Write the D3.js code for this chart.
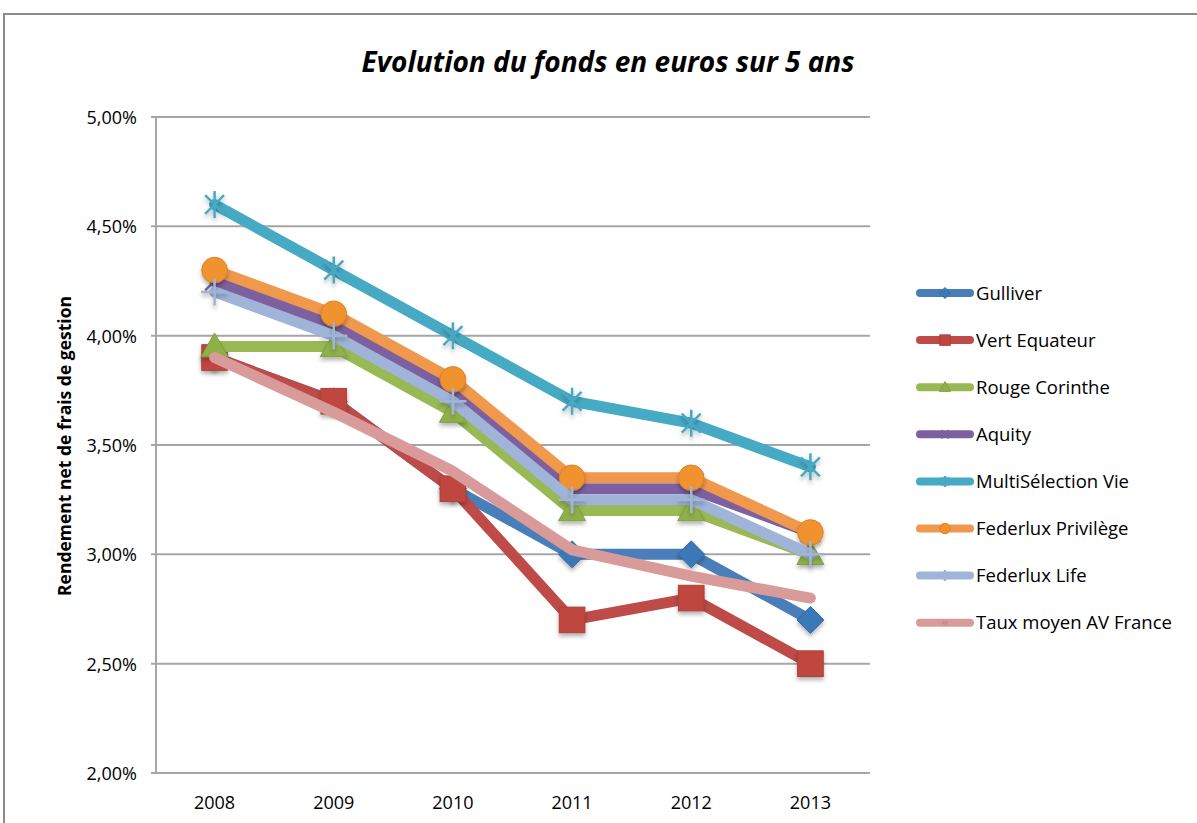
<!DOCTYPE html>
<html>
<head>
<meta charset="utf-8">
<script src="https://cdn.jsdelivr.net/npm/d3@7"></script>
<style>
  body { margin: 0; background: #fff; }
  svg { display: block; font-family: "Open Sans", "Liberation Sans", sans-serif; }
</style>
</head>
<body>
<svg id="chart" width="1197" height="823"></svg>
<script>
// Données du graphique
const years = ["2008", "2009", "2010", "2011", "2012", "2013"];
const yTicks = [2.0, 2.5, 3.0, 3.5, 4.0, 4.5, 5.0];

const gulliver      = [3.90, 3.70, 3.30, 3.00, 3.00, 2.70];
const vertEquateur  = [3.90, 3.70, 3.30, 2.70, 2.80, 2.50];
const rougeCorinthe = [3.95, 3.95, 3.65, 3.20, 3.20, 3.00];
const aquity        = [4.25, 4.05, 3.75, 3.30, 3.30, 3.10];
const multiSelection= [4.60, 4.30, 4.00, 3.70, 3.60, 3.40];
const federluxPriv  = [4.30, 4.10, 3.80, 3.35, 3.35, 3.10];
const federluxLife  = [4.20, 4.00, 3.70, 3.25, 3.25, 3.00];
const tauxMoyen     = [3.90, 3.65, 3.38, 3.02, 2.90, 2.80];

const series = [
  { name: "Gulliver", values: gulliver, color: "#4a7ebb", fill: "#3b78b8", marker: "diamond" },
  { name: "Vert Equateur", values: vertEquateur, color: "#be4b48", fill: "#c0473f", marker: "square" },
  { name: "Rouge Corinthe", values: rougeCorinthe, color: "#98b954", fill: "#8fb04a", marker: "triangle" },
  { name: "Aquity", values: aquity, color: "#7d60a0", fill: "#7d60a0", marker: "x" },
  { name: "MultiSélection Vie", values: multiSelection, color: "#46aac5", fill: "#46aac5", marker: "star" },
  { name: "Federlux Privilège", values: federluxPriv, color: "#f0984c", fill: "#f0922e", marker: "circle" },
  { name: "Federlux Life", values: federluxLife, color: "#9fb4d8", fill: "#9fb4d8", marker: "plus" },
  { name: "Taux moyen AV France", values: tauxMoyen, color: "#d99b9a", fill: "#d99b9a", marker: "dash" }
];

const svg = d3.select("#chart");

// Ombre légère des marqueurs
const defs = svg.append("defs");
const f = defs.append("filter").attr("id", "shadow").attr("x", "-30%").attr("y", "-30%").attr("width", "160%").attr("height", "180%");
f.append("feDropShadow").attr("dx", 0).attr("dy", 3).attr("stdDeviation", 2).attr("flood-color", "#000").attr("flood-opacity", 0.3);

// Cadre
svg.append("rect")
  .attr("x", 4).attr("y", 14).attr("width", 1210).attr("height", 830)
  .attr("fill", "none").attr("stroke", "#8c8c8c").attr("stroke-width", 2);

const x = d3.scaleBand().domain(years).range([155, 870]).padding(0);
const y = d3.scaleLinear().domain([2.0, 5.0]).range([773, 117]);
const cx = d => x(d) + x.bandwidth() / 2;

// Grille horizontale
svg.append("g")
  .selectAll("line")
  .data(yTicks)
  .enter()
  .append("line")
  .attr("x1", 151).attr("x2", 870)
  .attr("y1", d => y(d)).attr("y2", d => y(d))
  .attr("stroke", "#a6a6a6").attr("stroke-width", 2);

// Axe vertical
svg.append("line")
  .attr("x1", 156).attr("x2", 156).attr("y1", 117).attr("y2", 774)
  .attr("stroke", "#a6a6a6").attr("stroke-width", 2);

// Étiquettes de l'axe Y
const fmt = d => d.toFixed(2).replace(".", ",") + "%";
svg.append("g")
  .selectAll("text")
  .data(yTicks)
  .enter()
  .append("text")
  .attr("x", 137).attr("y", d => y(d) + 7)
  .attr("text-anchor", "end")
  .attr("font-size", 18).attr("fill", "#000")
  .text(fmt);

// Étiquettes de l'axe X
svg.append("g")
  .selectAll("text")
  .data(years)
  .enter()
  .append("text")
  .attr("x", d => cx(d)).attr("y", 809)
  .attr("text-anchor", "middle")
  .attr("font-size", 18).attr("fill", "#000")
  .text(d => d);

// Titre
svg.append("text")
  .attr("x", 608).attr("y", 72)
  .attr("text-anchor", "middle")
  .attr("font-size", 28).attr("font-weight", "bold").attr("font-style", "italic")
  .text("Evolution du fonds en euros sur 5 ans");

// Titre de l'axe Y
svg.append("text")
  .attr("transform", "translate(71,446) rotate(-90)")
  .attr("text-anchor", "middle")
  .attr("font-size", 17.5).attr("font-weight", "bold")
  .text("Rendement net de frais de gestion");

// Dessin d'un marqueur
function drawMarker(g, type, s, size) {
  const r = size / 2;
  if (type === "diamond") {
    g.append("path").attr("d", `M0,${-r} L${r},0 L0,${r} L${-r},0 Z`)
      .attr("fill", s.fill).attr("stroke", d3.color(s.fill).darker(0.3)).attr("stroke-width", 1);
  } else if (type === "square") {
    const h = r * 0.95;
    g.append("rect").attr("x", -h).attr("y", -h).attr("width", 2 * h).attr("height", 2 * h)
      .attr("fill", s.fill).attr("stroke", d3.color(s.fill).darker(0.3)).attr("stroke-width", 1);
  } else if (type === "triangle") {
    g.append("path").attr("d", `M0,${-r} L${r},${r * 0.75} L${-r},${r * 0.75} Z`)
      .attr("fill", s.fill).attr("stroke", d3.color(s.fill).darker(0.3)).attr("stroke-width", 1);
  } else if (type === "circle") {
    g.append("circle").attr("r", r * 0.95)
      .attr("fill", s.fill).attr("stroke", d3.color(s.fill).darker(0.3)).attr("stroke-width", 1);
  } else if (type === "x") {
    const k = r * 0.7;
    g.append("path").attr("d", `M${-k},${-k} L${k},${k} M${-k},${k} L${k},${-k}`)
      .attr("stroke", s.fill).attr("stroke-width", 2.5);
  } else if (type === "star") {
    const k = r * 0.7;
    g.append("path").attr("d", `M${-k},${-k} L${k},${k} M${-k},${k} L${k},${-k} M0,${-r} L0,${r}`)
      .attr("stroke", s.fill).attr("stroke-width", 2.5);
  } else if (type === "plus") {
    g.append("path").attr("d", `M0,${-r} L0,${r} M${-r},0 L${r},0`)
      .attr("stroke", s.fill).attr("stroke-width", 2.5);
  } else if (type === "dash") {
    g.append("path").attr("d", `M${-r * 0.55},0 L${r * 0.55},0`)
      .attr("stroke", d3.color(s.fill).darker(0.2)).attr("stroke-width", 4);
  }
}

const line = d3.line()
  .x((d, i) => cx(years[i]))
  .y(d => y(d));

// Séries : ligne puis marqueurs
series.forEach(s => {
  const g = svg.append("g");
  g.append("path")
    .datum(s.values)
    .attr("d", line)
    .attr("fill", "none")
    .attr("stroke", s.color)
    .attr("stroke-width", 11)
    .attr("stroke-linejoin", "round")
    .attr("stroke-linecap", "round");

  s.values.forEach((v, i) => {
    const m = g.append("g")
      .attr("transform", `translate(${cx(years[i])},${y(v)})`)
      .attr("filter", "url(#shadow)");
    drawMarker(m, s.marker, s, 27);
  });
});

// Légende
const legend = svg.append("g");
series.forEach((s, i) => {
  const ly = 293 + i * 47.1;
  const lg = legend.append("g");
  lg.append("line")
    .attr("x1", 920).attr("x2", 970).attr("y1", ly).attr("y2", ly)
    .attr("stroke", s.color).attr("stroke-width", 8).attr("stroke-linecap", "round");
  const m = lg.append("g").attr("transform", `translate(945,${ly})`);
  drawMarker(m, s.marker, s, 11);
  lg.append("text")
    .attr("x", 976).attr("y", ly + 6.5)
    .attr("font-size", 18.5).attr("fill", "#000")
    .text(s.name);
});
</script>
</body>
</html>
